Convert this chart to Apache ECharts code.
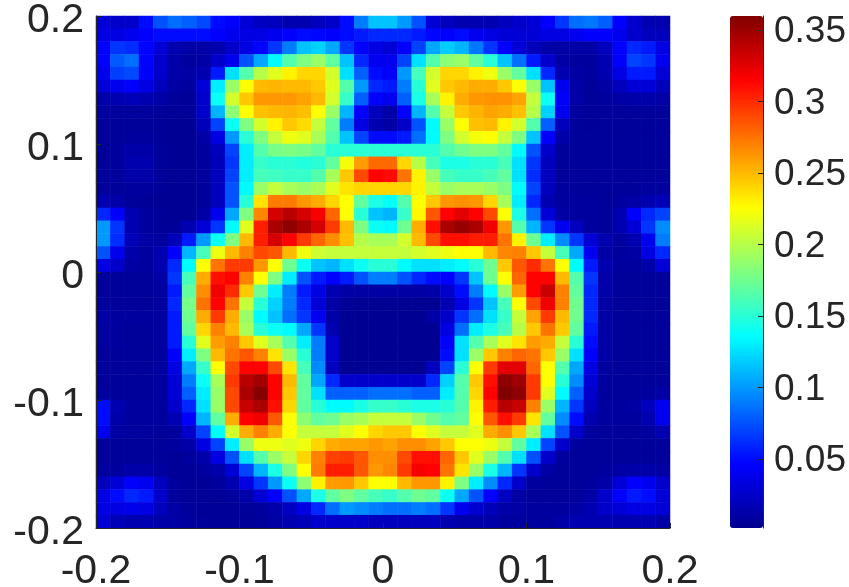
<!DOCTYPE html>
<html><head><meta charset="utf-8">
<style>html,body{margin:0;padding:0;background:#fff;overflow:hidden}#c{width:849px;height:587px}</style>
<script src="https://cdn.jsdelivr.net/npm/echarts@6/dist/echarts.min.js"></script>
</head><body><div id="c"></div>
<script>
const axisTicks = [-0.2, -0.1, 0, 0.1, 0.2];
const colorbarTicks = [0.05, 0.1, 0.15, 0.2, 0.25, 0.3, 0.35];
const colorMin = 0.0016;
const colorMax = 0.36;
const jetColors = ['#00008f','#0000ff','#0080ff','#00ffff','#80ff80','#ffff00','#ff8000','#ff0000','#800000'];
// cell values in thousandths, top row first
const heatRows = [
[30,25,25,50,75,85,80,72,50,45, 30,22,20,15,15,20,25,50,90,115, 115,100,75,30,20,15,15,15,20,25, 30,45,65,85,88,80,45,25,15,15],
[35,35,40,45,50,50,50,50,45,40, 35,35,40,45,50,48,45,50,55,60, 60,60,55,48,45,50,40,35,30,30, 30,35,35,40,45,45,40,25,20,20],
[45,65,62,47,30,15,12,12,15,25, 35,48,65,90,115,120,105,65,45,35, 30,45,70,105,118,110,88,65,45,30, 20,12,10,10,10,20,45,60,55,35],
[45,78,85,47,25,12,8,10,25,40, 75,105,135,165,180,190,170,115,60,40, 40,70,125,165,185,190,170,150,115,85, 55,25,10,8,8,15,45,70,65,40],
[40,68,72,45,25,12,10,15,55,125, 165,200,215,230,240,240,210,125,80,50, 45,100,160,210,240,240,230,220,190,170, 125,60,15,10,8,15,35,55,55,30],
[30,40,45,35,20,10,8,30,130,190, 225,250,252,250,250,245,215,165,100,60, 55,90,150,215,245,250,255,255,245,225, 190,115,40,10,6,10,20,30,30,20],
[12,15,18,15,10,6,5,25,140,210, 245,262,262,262,258,250,210,155,80,45, 40,80,145,195,230,255,262,264,264,258, 205,140,45,10,6,8,10,12,12,10],
[8,8,8,8,6,5,5,25,110,185, 225,248,250,252,248,225,190,110,45,20, 12,45,110,165,205,245,252,258,255,248, 200,120,40,8,5,6,6,6,6,6],
[6,6,6,6,5,4,4,18,70,140, 180,210,230,245,238,205,170,90,35,15, 10,25,75,135,190,225,248,250,230,210, 165,80,20,6,5,6,6,6,6,6],
[6,6,8,8,5,4,4,10,35,100, 150,180,205,220,215,195,165,115,70,50, 50,55,85,135,180,210,222,225,205,180, 115,45,12,6,6,6,6,6,6,6],
[6,8,12,12,6,4,4,8,20,70, 130,165,178,180,178,170,150,150,150,150, 150,150,150,150,165,175,180,180,170,135, 75,25,6,6,6,6,6,6,6,6],
[6,8,14,14,6,4,4,8,18,65, 130,155,150,150,148,150,170,222,260,278, 278,240,200,160,145,145,150,150,160,125, 65,20,6,6,6,6,6,6,6,6],
[6,8,12,12,6,4,4,8,20,70, 130,160,158,155,155,165,195,245,290,315, 312,275,230,190,160,155,155,160,170,125, 62,20,6,6,6,6,6,6,6,6],
[6,6,8,8,5,4,4,6,20,75, 135,190,205,195,190,195,215,235,240,240, 240,240,230,205,190,195,195,190,180,135, 70,20,8,6,6,6,6,6,8,8],
[15,12,6,5,4,4,4,6,20,75, 150,235,272,272,262,255,240,225,170,145, 138,165,225,245,262,265,262,240,195,130, 60,15,8,8,8,6,8,10,14,18],
[60,45,15,8,5,4,4,10,40,105, 180,268,330,340,330,318,280,225,150,115, 110,155,228,285,315,325,315,290,225,145, 85,30,10,8,8,6,15,45,60,70],
[100,65,15,8,5,5,15,30,65,135, 215,305,345,355,345,330,295,250,180,140, 135,175,255,310,345,352,345,320,262,165, 110,65,40,20,8,6,15,30,65,95],
[100,62,18,10,8,18,55,100,140,180, 250,305,330,315,295,280,265,248,200,195, 195,210,250,290,310,310,305,305,275,230, 175,130,95,65,30,15,8,15,40,90],
[75,40,12,8,15,45,110,160,220,250, 270,290,285,250,220,208,205,205,205,205, 205,205,210,215,220,225,225,250,268,270, 245,205,160,105,40,10,8,10,35,60],
[35,25,10,8,15,60,135,225,275,295, 295,262,225,175,140,115,110,125,140,150, 150,135,125,125,130,135,150,175,245,285, 300,275,225,135,55,15,8,8,12,30],
[6,6,6,6,10,65,160,255,310,315, 270,225,180,130,75,55,45,55,75,90, 90,75,60,50,45,65,115,175,225,280, 315,315,250,165,65,12,6,6,6,6],
[6,6,6,6,8,55,170,265,320,300, 245,175,130,90,55,35,15,10,10,10, 10,10,10,12,25,50,90,135,190,260, 315,335,270,170,60,12,6,6,6,6],
[6,6,6,6,8,60,178,275,315,275, 205,150,120,90,60,30,10,5,3,3, 3,3,3,3,15,35,65,115,160,225, 290,320,270,175,60,10,6,6,6,6],
[10,8,8,8,8,55,175,255,295,255, 190,135,115,85,65,40,12,3,3,3, 3,3,3,10,25,65,85,125,155,205, 258,295,250,175,60,10,6,6,6,6],
[8,8,6,6,8,55,170,240,270,250, 195,150,140,135,105,65,15,3,3,3, 3,3,3,3,35,85,130,145,160,200, 245,275,245,170,55,10,6,6,6,6],
[8,8,6,6,8,55,150,215,260,270, 245,215,195,165,130,90,25,3,3,3, 3,3,3,3,45,125,165,195,215,235, 260,255,205,150,50,10,6,6,6,6],
[6,6,6,6,8,45,130,180,250,275, 285,270,235,190,150,90,25,3,3,3, 3,3,3,3,50,125,190,245,270,280, 275,245,190,125,45,10,6,6,6,6],
[6,6,6,6,8,35,105,155,225,290, 315,315,290,235,160,95,20,3,3,3, 3,3,3,20,70,150,225,295,325,325, 280,225,165,105,35,8,6,6,6,6],
[6,6,6,6,8,30,90,140,195,295, 340,348,315,250,170,105,60,25,25,25, 25,25,25,60,120,165,245,310,355,350, 295,225,150,95,30,8,6,6,6,6],
[8,6,6,6,8,30,80,130,190,290, 345,358,315,245,170,125,80,80,80,85, 85,85,80,80,130,165,240,315,360,355, 295,215,135,80,25,8,6,6,8,10],
[50,15,8,8,8,25,60,125,190,290, 335,345,310,240,170,150,135,135,145,155, 155,150,145,145,150,165,230,305,340,335, 270,190,110,65,20,8,8,10,20,40],
[50,12,8,8,8,15,45,110,170,255, 315,320,285,225,185,170,175,190,195,205, 205,205,190,175,165,170,225,285,310,295, 235,170,95,50,15,8,8,8,15,40],
[40,10,8,8,6,8,25,70,135,210, 255,270,255,225,205,205,205,215,225,240, 245,245,225,215,205,205,215,255,265,245, 195,125,75,25,8,6,6,6,8,15],
[6,6,6,6,6,8,12,35,70,130, 190,220,220,215,220,240,255,258,258,262, 258,265,265,258,245,225,225,220,205,170, 130,70,25,8,6,6,6,6,6,6],
[6,6,6,6,6,5,8,12,35,75, 125,165,190,205,240,270,292,295,285,265, 265,290,310,310,280,245,215,190,165,125, 75,25,8,6,6,6,6,6,6,6],
[8,8,12,12,8,5,5,8,12,30, 70,110,145,180,225,272,305,305,285,262, 268,295,318,315,275,235,190,145,110,65, 25,10,6,6,6,8,10,12,12,10],
[20,30,45,40,20,8,5,5,8,15, 35,65,100,140,185,230,260,262,245,225, 225,250,262,262,230,180,130,95,60,25, 8,6,6,6,8,12,30,45,40,25],
[35,50,60,55,25,8,5,5,5,8, 12,30,45,75,105,145,170,180,170,160, 155,165,175,170,140,105,75,45,22,10, 6,6,6,6,12,25,45,55,50,30],
[35,35,38,35,20,10,6,5,5,5, 6,8,12,22,35,60,85,100,95,90, 85,85,90,85,65,40,28,18,12,10, 8,8,8,10,15,25,30,35,35,30],
[30,18,15,15,12,10,8,6,5,5, 5,6,10,15,18,25,25,25,25,20, 20,20,20,20,15,12,12,12,8,8, 8,8,12,15,15,15,15,15,15,12]
];
const colLabels = heatRows[0].map((_, i) => ((i + 0.5) * 0.01 - 0.2).toFixed(3));
const rowLabels = heatRows.map((_, j) => (0.2 - (j + 0.5) * 0.01).toFixed(3));
const cells = [];
heatRows.forEach((row, j) => row.forEach((v, i) => cells.push([i, j, v / 1000])));

const ink = '#262626';
const fontFamily = '"Liberation Sans", Arial, sans-serif';
const labelFont = 41;
const barFont = 37;
const chart = echarts.init(document.getElementById('c'), null, {renderer: 'canvas'});
chart.setOption({
  animation: false,
  backgroundColor: '#fff',
  grid: [
    {left: 96, top: 16, width: 574, height: 512, containLabel: false, outerBoundsMode: 'none'},
    {left: 730, top: 16, width: 33, height: 512, containLabel: false, outerBoundsMode: 'none'}
  ],
  xAxis: [
    {type: 'category', gridIndex: 0, data: colLabels, show: false},
    {type: 'value', gridIndex: 0, position: 'bottom', min: axisTicks[0], max: axisTicks[4], interval: 0.1, z: 6,
      splitLine: {show: false},
      axisLine: {show: true, onZero: false, lineStyle: {color: ink, width: 1}},
      axisTick: {show: true, inside: true, length: 5, lineStyle: {color: ink, width: 1}},
      axisLabel: {show: true, margin: 23, fontSize: labelFont, color: ink, fontFamily,
        hideOverlap: false, showMinLabel: true, showMaxLabel: true,
        formatter: v => String(+v.toFixed(1))}},
    {type: 'value', gridIndex: 1, show: false, min: 0, max: 1}
  ],
  yAxis: [
    {type: 'category', gridIndex: 0, data: rowLabels, inverse: true, show: false},
    {type: 'value', gridIndex: 0, position: 'left', min: axisTicks[0], max: axisTicks[4], interval: 0.1, z: 6,
      splitLine: {show: false},
      axisLine: {show: true, onZero: false, lineStyle: {color: ink, width: 1}},
      axisTick: {show: true, inside: true, length: 5, lineStyle: {color: ink, width: 1}},
      axisLabel: {show: true, margin: 12, color: ink, fontFamily,
        hideOverlap: false, showMinLabel: true, showMaxLabel: true,
        verticalAlignMinLabel: 'middle', verticalAlignMaxLabel: 'middle',
        rich: {t: {fontSize: labelFont, color: ink, fontFamily, padding: [9, 0, 0, 0]}},
        formatter: v => '{t|' + String(+v.toFixed(1)) + '}'}},
    {type: 'value', gridIndex: 1, position: 'right', min: colorMin, max: colorMax, z: 6,
      splitLine: {show: false},
      axisLine: {show: true, onZero: false, lineStyle: {color: ink, width: 1}},
      axisTick: {show: true, inside: true, length: 5, customValues: colorbarTicks, lineStyle: {color: ink, width: 1}},
      axisLabel: {show: true, margin: 11, color: ink, fontFamily,
        rich: {t: {fontSize: barFont, color: ink, fontFamily, padding: [4, 0, 0, 0]}},
        customValues: colorbarTicks, formatter: v => '{t|' + String(+v.toFixed(2)) + '}'}}
  ],
  visualMap: {
    type: 'continuous', seriesIndex: 0, min: colorMin, max: colorMax, calculable: false,
    show: true, left: 730, top: 16, itemWidth: 33, itemHeight: 512, padding: 0,
    text: ['', ''], showLabel: false, hoverLink: false, borderRadius: 0,
    inRange: {color: jetColors}
  },
  series: [{
    type: 'heatmap', xAxisIndex: 0, yAxisIndex: 0, data: cells, progressive: 0,
    itemStyle: {borderWidth: 0}, emphasis: {disabled: true}, silent: true
  }]
});
</script></body></html>
